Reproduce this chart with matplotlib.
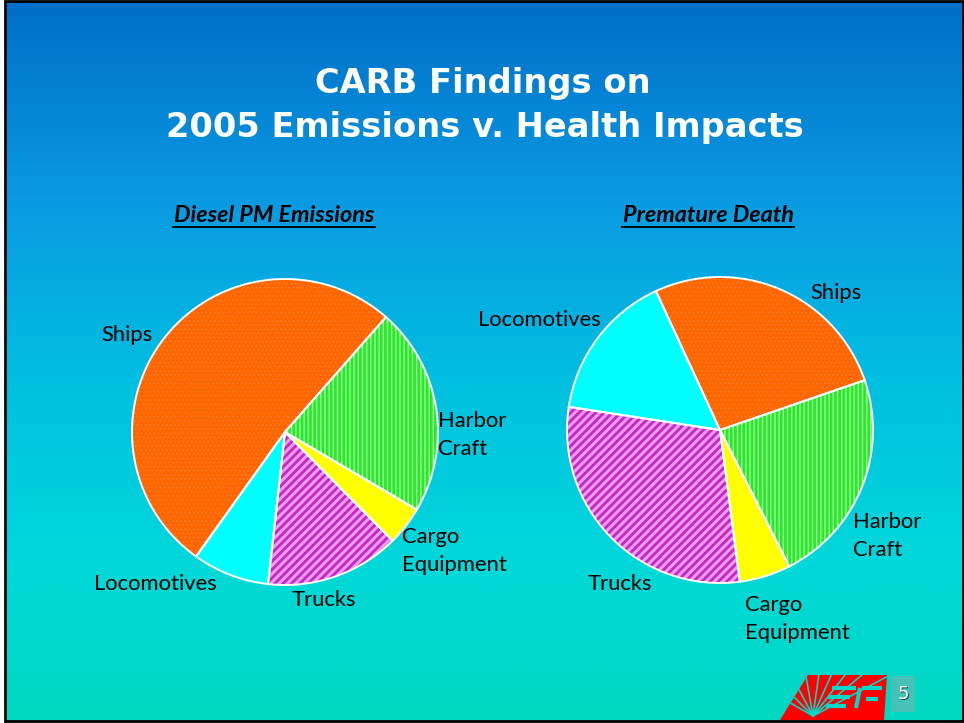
import numpy as np
import matplotlib.pyplot as plt
from matplotlib.colors import LinearSegmentedColormap
from matplotlib.patches import Polygon, Rectangle

plt.rcParams['hatch.linewidth'] = 2.0

# ---------------------------------------------------------------
# Data (percent shares)
# ---------------------------------------------------------------
categorias = ["Ships", "Locomotives", "Trucks", "Cargo\nEquipment", "Harbor\nCraft"]
emisiones_pm = [51.6, 8.1, 14.2, 4.1, 22.0]
muertes_prematuras = [26.6, 15.7, 29.5, 5.4, 22.8]

colores = ["#FF6600", "#00FFFF", "#E6A0E6", "#FFFF00", "#A8F0A8"]
tramas = ["....", "", "////", "", "||||"]
color_trama = ["#FF8030", "#00FFFF", "#CC22CC", "#FFFF00", "#22EE22"]
grosor_trama = [0.6, 1.0, 2.0, 1.0, 2.0]

W, H = 964, 723
fig = plt.figure(figsize=(W / 100, H / 100), dpi=100)
fig.patch.set_facecolor("white")
ax = fig.add_axes([0, 0, 1, 1])

# fondo degradado
cmap = LinearSegmentedColormap.from_list("fondo", [
    (0.0, "#00D8C0"), (0.22, "#00D8DA"), (0.45, "#00C2E0"),
    (0.72, "#0A9BE2"), (1.0, "#006EC8")])
grad = np.linspace(0, 1, 256).reshape(-1, 1)
ax.imshow(grad, cmap=cmap, origin="lower", aspect="auto",
          extent=(5, 963, H - 721, H - 1), zorder=0)
ax.add_patch(Rectangle((5, H - 721), 958, 720, fill=False, ec="black", lw=2, zorder=1))


def y_(y):
    # coordenadas de pantalla (y hacia abajo) -> ejes
    return H - y


def tarta(valores, centro, inicio):
    cuñas, _ = ax.pie(valores, colors=colores, startangle=inicio, counterclock=True,
                      center=centro, radius=153, frame=True,
                      wedgeprops=dict(linewidth=0))
    for w, t, c, g in zip(cuñas, tramas, color_trama, grosor_trama):
        w.set_hatch(t)
        w.set_edgecolor(c)
        if hasattr(w, "set_hatch_linewidth"):
            w.set_hatch_linewidth(g)
        else:
            w._hatch_linewidth = g
        w.set_zorder(2)
    borde, _ = ax.pie(valores, startangle=inicio, counterclock=True,
                      center=centro, radius=153, frame=True,
                      wedgeprops=dict(fill=False, edgecolor="white", linewidth=1.4))
    for w in borde:
        w.set_zorder(3)


tarta(emisiones_pm, (285, y_(432)), 48.7)
tarta(muertes_prematuras, (720, y_(430)), 19.0)

ax.set_xlim(0, W)
ax.set_ylim(0, H)
ax.set_aspect("auto")
ax.axis("off")

fuente = "Lato"
kw = dict(fontsize=15.8, family=fuente, color="black", zorder=5, linespacing=1.45)

# etiquetas - izquierda
ax.text(127, y_(335), "Ships", ha="center", va="center", **kw)
ax.text(438, y_(435), "Harbor\nCraft", ha="left", va="center", **kw)
ax.text(402, y_(551), "Cargo\nEquipment", ha="left", va="center", **kw)
ax.text(324, y_(600), "Trucks", ha="center", va="center", **kw)
ax.text(155, y_(584), "Locomotives", ha="center", va="center", **kw)
# etiquetas - derecha
ax.text(539, y_(320), "Locomotives", ha="center", va="center", **kw)
ax.text(836, y_(293), "Ships", ha="center", va="center", **kw)
ax.text(853, y_(536), "Harbor\nCraft", ha="left", va="center", **kw)
ax.text(745, y_(619), "Cargo\nEquipment", ha="left", va="center", **kw)
ax.text(620, y_(584), "Trucks", ha="center", va="center", **kw)

# subtítulos subrayados
for x, txt, ancho in [(274, "Diesel PM Emissions", 202), (708, "Premature Death", 172)]:
    ax.text(x, y_(215), txt, ha="center", va="center", fontsize=16.8, family=fuente,
            fontweight="bold", fontstyle="italic", zorder=5)
    ax.plot([x - ancho / 2, x + ancho / 2], [y_(227), y_(227)], color="black", lw=1.3, zorder=5)

# título
ax.text(483, y_(84), "CARB Findings on", ha="center", va="center", fontsize=24.2,
        family="DejaVu Sans", fontweight="bold", color="white", zorder=5)
ax.text(485, y_(128), "2005 Emissions v. Health Impacts", ha="center", va="center",
        fontsize=24.2, family="DejaVu Sans", fontweight="bold", color="white", zorder=5)

# logotipo
logo = Polygon([(780, y_(720)), (808, y_(675)), (887, y_(675)), (884, y_(720))],
               closed=True, fc="#FF0000", ec="none", zorder=4)
ax.add_patch(logo)
origen = (813, y_(716))
for ang in [28, 40, 52, 66, 82, 100, 118, 135, 150]:
    r = np.radians(ang)
    ln, = ax.plot([origen[0], origen[0] + 120 * np.cos(r)],
                  [origen[1], origen[1] + 120 * np.sin(r)],
                  color="#00D8C8", lw=1.2, zorder=5)
    ln.set_clip_path(logo)
for seg in [[(832, 688), (856, 688)], [(828, 697), (850, 697)], [(826, 706), (846, 706)],
            [(862, 688), (882, 688)], [(860, 688), (856, 708)], [(866, 699), (878, 699)]]:
    ln, = ax.plot([seg[0][0], seg[1][0]], [y_(seg[0][1]), y_(seg[1][1])],
                  color="#00D8C8", lw=3, solid_capstyle="butt", zorder=5)
    ln.set_clip_path(logo)

# número de página
ax.add_patch(Rectangle((891, y_(712)), 24, 36, fc="#5ABDB5", ec="none", alpha=0.8, zorder=4))
ax.text(904, y_(695), "5", ha="center", va="center", fontsize=13, family="DejaVu Sans",
        color="#1A4A48", zorder=5)
ax.text(903, y_(694), "5", ha="center", va="center", fontsize=13, family="DejaVu Sans",
        color="white", zorder=6)

fig.savefig("out.png", dpi=100)
